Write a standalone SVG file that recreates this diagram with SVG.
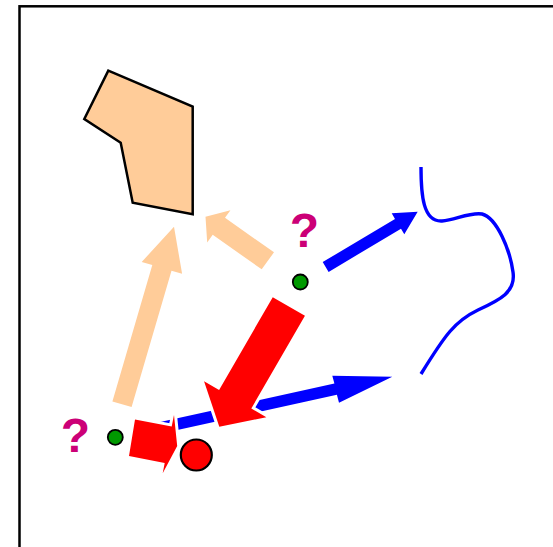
<svg xmlns="http://www.w3.org/2000/svg" width="553" height="547" viewBox="0 0 553 547">
<style>
.frame{fill:#fff;stroke:#000;stroke-width:2.5}
.peach{fill:#FFCC99;stroke:none}
.blue{fill:#0000FF;stroke:none}
.red{fill:#FF0000;stroke:#fff;stroke-width:6;paint-order:stroke;stroke-linejoin:miter}
.dot{fill:#009900;stroke:#000;stroke-width:1.8}
.q{font-family:"Liberation Sans",Arial,sans-serif;font-weight:bold;font-size:48px;fill:#CC0077;text-anchor:middle}
.curve{fill:none;stroke:#0000FF;stroke-width:3.4}
</style>
<rect class="frame" x="19.5" y="6.3" width="600" height="600"/>
<g id="polygon-node">
<polygon points="108.3,70.7 192.7,106.7 192.7,214.3 132.7,202.7 120.7,142.7 84.3,119" fill="#FFCC99" stroke="#000" stroke-width="2.5" stroke-linejoin="miter"/>
</g>
<g id="curve-node">
<path class="curve" d="M421,167 C421,195 423,222 442,221 C455,220 470,212 482,214 C497,218 510,250 513,272 C516,292 500,300 478,310 C455,321 445,335 421,374"/>
</g>
<g id="connectors">
<polygon class="peach" points="112.4,401.4 152.3,265.1 141.7,262 174,226.7 182.1,273.8 171.5,270.7 131.6,407"/>
<polygon class="peach" points="274,252.3 225,217.85 230.46,210.3 205.5,216.7 207.2,242.4 212.7,234.85 261.7,269.3"/>
<polygon class="blue" points="322.7,262.1 395,218.9 391.7,213.3 417.7,211.7 404.3,234.3 401,228.7 328.6,271.9"/>
<polygon class="blue" points="148.8,424.6 334.4,383.6 332.3,375.7 392.3,376.7 339,402.7 336.9,394.8 151.2,435.8"/>
<polygon class="red" points="272.75,297.2 219.1,389.9 204.05,381.2 219.3,426.7 266.35,417.2 251.3,408.5 304.95,315.8"/>
<polygon class="red" points="135,419.5 171.7,426.6 174,415 177.2,446 162.7,473.3 164.7,462.9 129,456"/>
</g>
<g id="dot-top">
<circle class="dot" cx="300.3" cy="282" r="7.5"/>
<text class="q" x="304.5" y="246.7">?</text>
</g>
<g id="dot-bottom">
<circle class="dot" cx="115.3" cy="437.3" r="7.5"/>
<text class="q" x="75.3" y="451.7">?</text>
</g>
<g id="red-circle">
<circle cx="196.3" cy="455" r="15.5" fill="#FF0000" stroke="#000" stroke-width="2.2"/>
</g>
</svg>
